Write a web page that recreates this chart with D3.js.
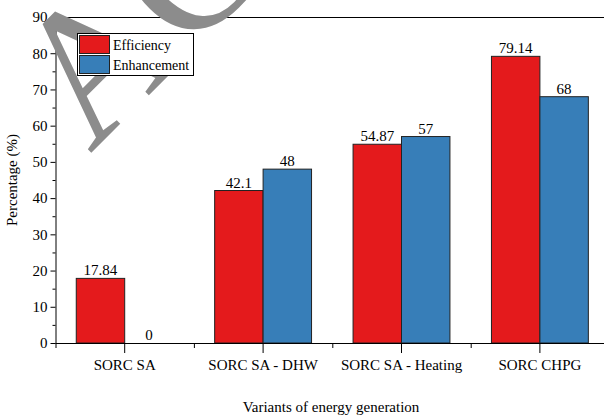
<!DOCTYPE html>
<html>
<head>
<meta charset="utf-8">
<style>
body { margin: 0; background: #fff; }
svg text { font-family: "Liberation Serif", "Times New Roman", serif; fill: #000; }
</style>
<script src="https://cdn.jsdelivr.net/npm/d3@7"></script>
</head>
<body>
<script>

var categories = ["SORC SA", "SORC SA - DHW", "SORC SA - Heating", "SORC CHPG"];
var series = ["Efficiency", "Enhancement"];
var efficiency = [17.84, 42.1, 54.87, 79.14];
var enhancement = [0, 48, 57, 68];
var yTicks = [0, 10, 20, 30, 40, 50, 60, 70, 80, 90];
var colors = ["#e41a1c", "#377eb8"];

var width = 604, height = 418;
var plotLeft = 55.5, plotTop = 17, plotBottom = 343;

var svg = d3.select("body").append("svg")
    .attr("width", width)
    .attr("height", height);

var x0 = d3.scaleBand()
    .domain(categories)
    .range([plotLeft, plotLeft + 4 * 138.4])
    .padding(0);

var bw = x0.bandwidth();
var x1 = d3.scaleBand()
    .domain(series)
    .range([0.15 * bw, 0.85 * bw]);

var y = d3.scaleLinear()
    .domain([0, 90])
    .range([plotBottom, plotTop]);

var color = d3.scaleOrdinal().domain(series).range(colors);

var rows = categories.map(function(c, i) {
  return {cat: c, values: [
    {key: "Efficiency", value: efficiency[i]},
    {key: "Enhancement", value: enhancement[i]}
  ]};
});

// bars
var g = svg.selectAll("g.cat")
    .data(rows)
  .enter().append("g")
    .attr("class", "cat")
    .attr("transform", function(d) { return "translate(" + x0(d.cat) + ",0)"; });

g.selectAll("rect")
    .data(function(d) { return d.values.filter(function(v) { return v.value > 0; }); })
  .enter().append("rect")
    .attr("x", function(d) { return x1(d.key); })
    .attr("width", x1.bandwidth())
    .attr("y", function(d) { return y(d.value); })
    .attr("height", function(d) { return y(0) - y(d.value); })
    .style("fill", function(d) { return color(d.key); })
    .style("stroke", "#222")
    .style("stroke-width", 1);

g.selectAll("text.val")
    .data(function(d) { return d.values; })
  .enter().append("text")
    .attr("class", "val")
    .attr("x", function(d) { return x1(d.key) + x1.bandwidth() / 2; })
    .attr("y", function(d) { return y(d.value) - 3; })
    .attr("text-anchor", "middle")
    .style("font-size", "15px")
    .text(function(d) { return d.value; });

// y axis
var yAxis = svg.append("g")
    .attr("transform", "translate(" + plotLeft + ",0)")
    .call(d3.axisLeft(y).tickValues(yTicks).tickSize(5).tickPadding(3).tickSizeOuter(0));
yAxis.selectAll("text").style("font-size", "15px");

svg.append("g")
    .attr("transform", "translate(" + plotLeft + ",0)")
    .call(d3.axisLeft(y).tickValues(d3.range(5, 90, 10)).tickSize(3).tickFormat(""))
    .select(".domain").remove();

// x axis: major ticks at centers, minor at band edges
var xAxis = svg.append("g")
    .attr("transform", "translate(0," + plotBottom + ")")
    .call(d3.axisBottom(x0).tickSize(10).tickPadding(6).tickSizeOuter(0));
xAxis.select(".domain").attr("d", "M" + plotLeft + ",0.5H" + width);
xAxis.selectAll("text").style("font-size", "15px");

var edges = d3.scaleLinear().domain([0, 4]).range(x0.range());
svg.append("g")
    .attr("transform", "translate(0," + plotBottom + ")")
    .call(d3.axisBottom(edges).tickValues([0, 1, 2, 3]).tickSize(5).tickFormat(""))
    .select(".domain").remove();

// top frame line
svg.append("line")
    .attr("x1", plotLeft).attr("x2", width)
    .attr("y1", plotTop + 0.5).attr("y2", plotTop + 0.5)
    .style("stroke", "#000");

// axis titles
svg.append("text")
    .attr("x", 331)
    .attr("y", 412)
    .attr("text-anchor", "middle")
    .style("font-size", "15px")
    .text("Variants of energy generation");

svg.append("text")
    .attr("transform", "translate(17,180) rotate(-90)")
    .attr("text-anchor", "middle")
    .style("font-size", "15px")
    .text("Percentage (%)");

// watermark
svg.append("text")
    .attr("transform", "translate(90,154) rotate(-45)")
    .style("font-size", "190px")
    .style("fill", "#8c8c8c")
    .text("ACCEPTED MANUSCRIPT");

// legend
var legend = svg.append("g").attr("transform", "translate(77,33)");
legend.append("rect")
    .attr("x", 0.5).attr("y", 0.5)
    .attr("width", 116).attr("height", 42)
    .style("fill", "#fff")
    .style("stroke", "#000");

var item = legend.selectAll("g.item")
    .data(series)
  .enter().append("g")
    .attr("class", "item")
    .attr("transform", function(d, i) { return "translate(2," + (2.5 + i * 20) + ")"; });

item.append("rect")
    .attr("x", 0.5).attr("width", 30).attr("height", 18)
    .style("fill", function(d) { return color(d); })
    .style("stroke", "#222");

item.append("text")
    .attr("x", 34)
    .attr("y", 14)
    .style("font-size", "14px")
    .text(function(d) { return d; });

</script>
</body>
</html>
